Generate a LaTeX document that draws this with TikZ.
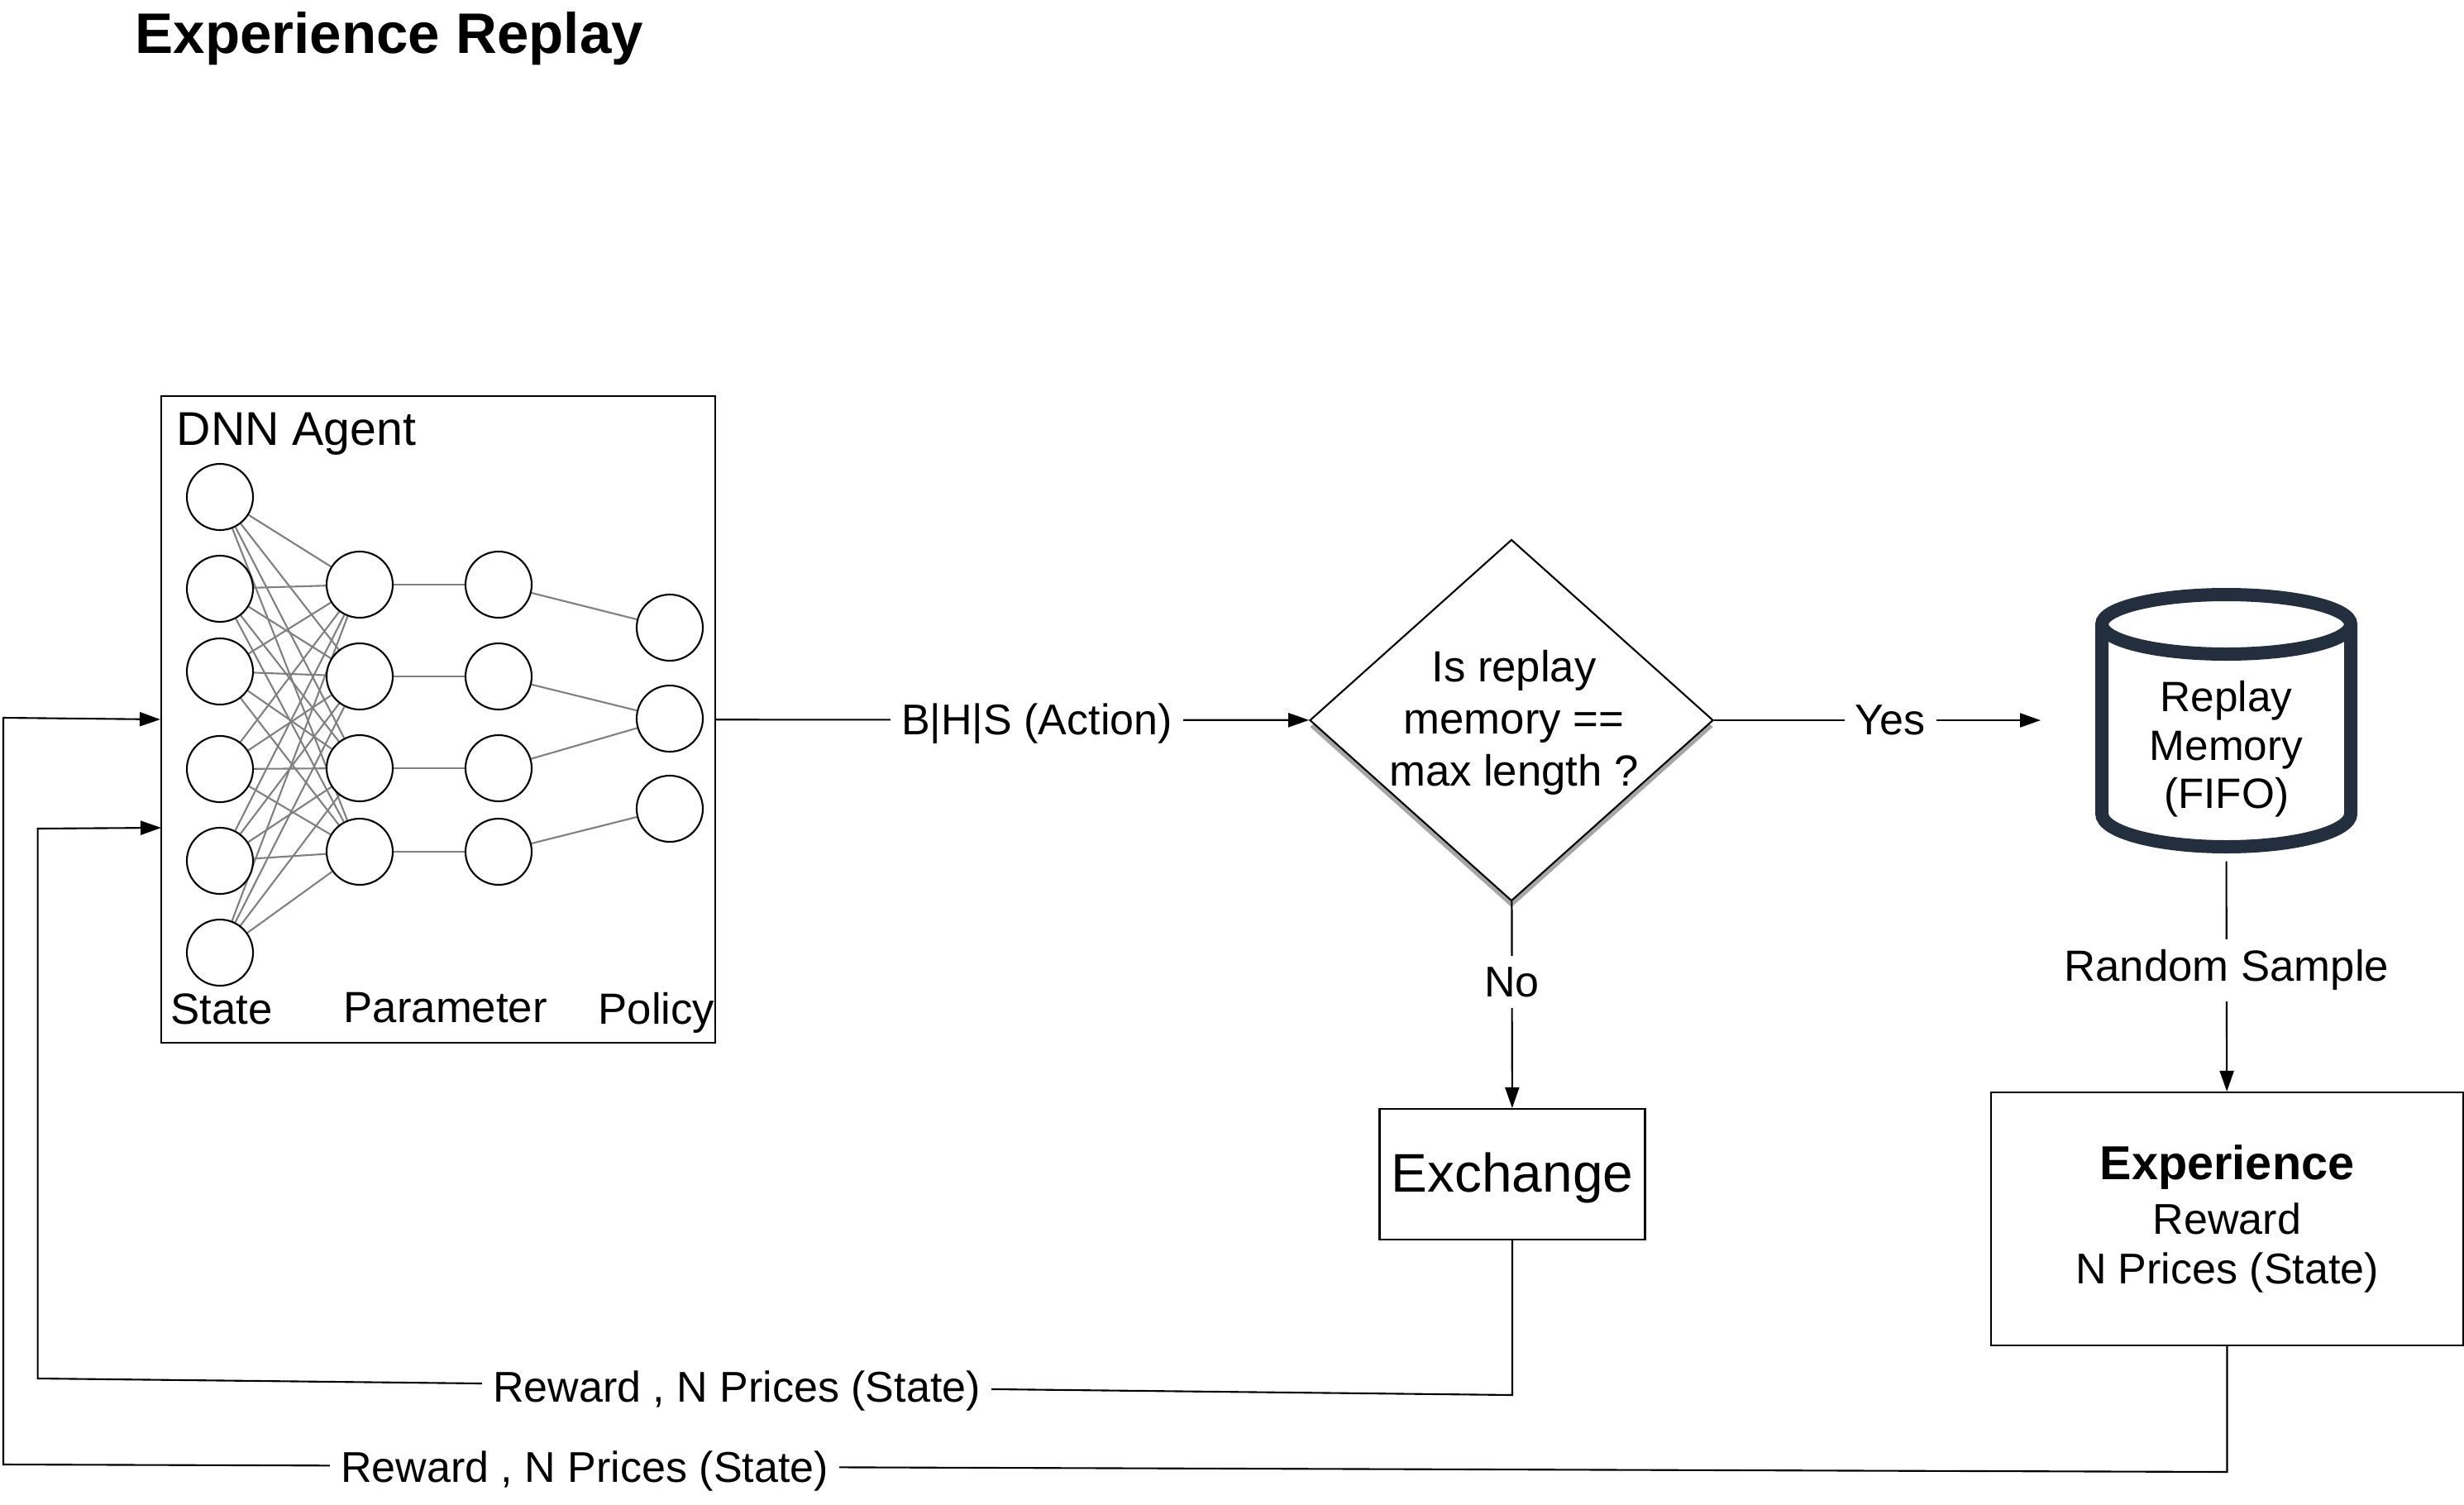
\documentclass[tikz,border=0pt]{standalone}
\usepackage{fontspec}
\setmainfont{Liberation Sans}
\usetikzlibrary{shapes.geometric, arrows.meta, positioning, shadows, backgrounds}
\definecolor{memorynavy}{RGB}{35, 47, 62}
\tikzstyle{neuron} = [circle, draw=black, fill=white, line width=0.6pt, minimum size=0.8cm, inner sep=0pt]
\tikzstyle{boxnode} = [rectangle, draw=black, fill=white, line width=0.6pt, align=center, inner sep=0pt]
\tikzstyle{decision} = [diamond, draw=black, fill=white, line width=0.6pt, minimum width=4.88cm, minimum height=4.37cm, inner sep=0pt, drop shadow={shadow xshift=0cm, shadow yshift=-0.08cm, opacity=0.35, fill=black}]
\tikzstyle{memorynode} = [rectangle, minimum width=3.18cm, minimum height=3.19cm, inner sep=0pt]
\tikzstyle{memoryline} = [draw=memorynavy, line width=0.16cm]
\tikzstyle{textlabel} = [font=\fontsize{15}{18}\selectfont, inner sep=0pt]
\tikzstyle{linelabel} = [font=\fontsize{14.8}{18}\selectfont, fill=white, inner sep=0.13cm]
\tikzstyle{link} = [draw=gray, line width=0.6pt]
\tikzstyle{arrow} = [line width=0.6pt,->,>={Triangle[length=0.25cm,width=0.17cm]}]
\begin{document}
\begin{tikzpicture}
        \useasboundingbox (0,0) rectangle (29.8,-18.19);
        % Title
        \node[anchor=base west, inner sep=0pt, font=\fontsize{19.65}{22}\selectfont\bfseries] (title) at (1.63,-0.65) {Experience Replay};

        % Agent box
        \node[boxnode, fill=none, minimum width=6.7cm, minimum height=7.82cm] (agent) at (5.3,-8.70) {};
        \node[textlabel, anchor=base west, font=\fontsize{16.3}{18}\selectfont] (agentname) at (2.13,-5.38) {DNN Agent};
        \node[textlabel, anchor=base west] (statename) at (2.06,-12.38) {State};
        \node[textlabel, anchor=base west] (paramname) at (4.15,-12.36) {Parameter};
        \node[textlabel, anchor=base west] (policyname) at (7.23,-12.38) {Policy};

        % Neurons
        \foreach \i/\y in {1/6.01, 2/7.12, 3/8.12, 4/9.30, 5/10.41, 6/11.52}
            \node[neuron] (state\i) at (2.66,-\y) {};
        \foreach \i/\y in {1/7.07, 2/8.18, 3/9.29, 4/10.30} {
            \node[neuron] (param\i) at (4.35,-\y) {};
            \node[neuron] (hidden\i) at (6.03,-\y) {};
        }
        \foreach \i/\y in {1/7.59, 2/8.69, 3/9.78}
            \node[neuron] (policy\i) at (8.10,-\y) {};

        % Links between neurons
        \begin{scope}[on background layer]
            \foreach \i in {1,...,6}
                \foreach \j in {1,...,4}
                    \draw[link] (state\i) -- (param\j);
            \foreach \j in {1,...,4}
                \draw[link] (param\j) -- (hidden\j);
            \draw[link] (hidden1) -- (policy1);
            \draw[link] (hidden2) -- (policy2);
            \draw[link] (hidden3) -- (policy2);
            \draw[link] (hidden4) -- (policy3);
        \end{scope}

        % Main components
        \node[decision, label={[align=center, xshift=0.03cm, yshift=-0.03cm, font=\fontsize{15}{18}\selectfont]center:Is replay\\memory ==\\max length ?}] (check) at (18.28,-8.71) {};
        \node[memorynode] (memory) at (26.925,-8.715) {};
        \node[font=\fontsize{14.6}{16.7}\selectfont, align=center, inner sep=0pt] (memoryname) at (26.925,-9.06) {Replay\\Memory\\(FIFO)};
        \draw[memoryline] (25.42,-7.55) -- (25.42,-9.84) arc[start angle=180, end angle=360, x radius=1.505, y radius=0.40] -- (28.43,-7.55);
        \draw[memoryline] (26.925,-7.55) ellipse[x radius=1.505, y radius=0.36];
        \node[boxnode, minimum width=3.21cm, minimum height=1.58cm, text height=16.2pt, font=\fontsize{18.7}{22}\selectfont] (exchange) at (18.29,-14.20) {Exchange};
        \node[boxnode, minimum width=5.71cm, minimum height=3.06cm, font=\fontsize{14.8}{17.3}\selectfont] (experience) at (26.935,-14.74) {{\fontsize{16.4}{18}\selectfont\bfseries Experience}\\[1.5pt]Reward\\N Prices (State)};

        % Free ends and corners
        \coordinate (yesend) at (24.68,-8.71);
        \coordinate (agentin) at (1.95,-10.01);
        \coordinate (innerright) at (18.29,-16.87);
        \coordinate (innerleft) at (0.456,-16.67);
        \coordinate (innerup) at (0.456,-10.02);
        \coordinate (outerright) at (26.935,-17.80);
        \coordinate (outerleft) at (0.04,-17.71);
        \coordinate (outerup) at (0.04,-8.68);

        % Connections
        \draw[arrow] (agent) -- node[linelabel, pos=0.541, yshift=-0.05cm] {B|H|S (Action)} (check);
        \draw[arrow] (check) -- node[linelabel, pos=0.54] {Yes} (yesend);
        \draw[arrow] (check) -- node[linelabel, pos=0.389] {No} (exchange);
        \draw[arrow, shorten <=0.1cm] (memory.south) -- node[linelabel, pos=0.474, yshift=-0.05cm, font=\fontsize{15}{18}\selectfont] {Random Sample} (experience);
        \draw[arrow] (exchange) -- (innerright) -- node[linelabel, pos=0.526, yshift=-0.06cm] {Reward , N Prices (State)} (innerleft) -- (innerup) -- (agentin);
        \draw[arrow] (experience) -- (outerright) -- node[linelabel, pos=0.7386, yshift=-0.06cm] {Reward , N Prices (State)} (outerleft) -- (outerup) -- (agent.west);
    \end{tikzpicture}
\end{document}
